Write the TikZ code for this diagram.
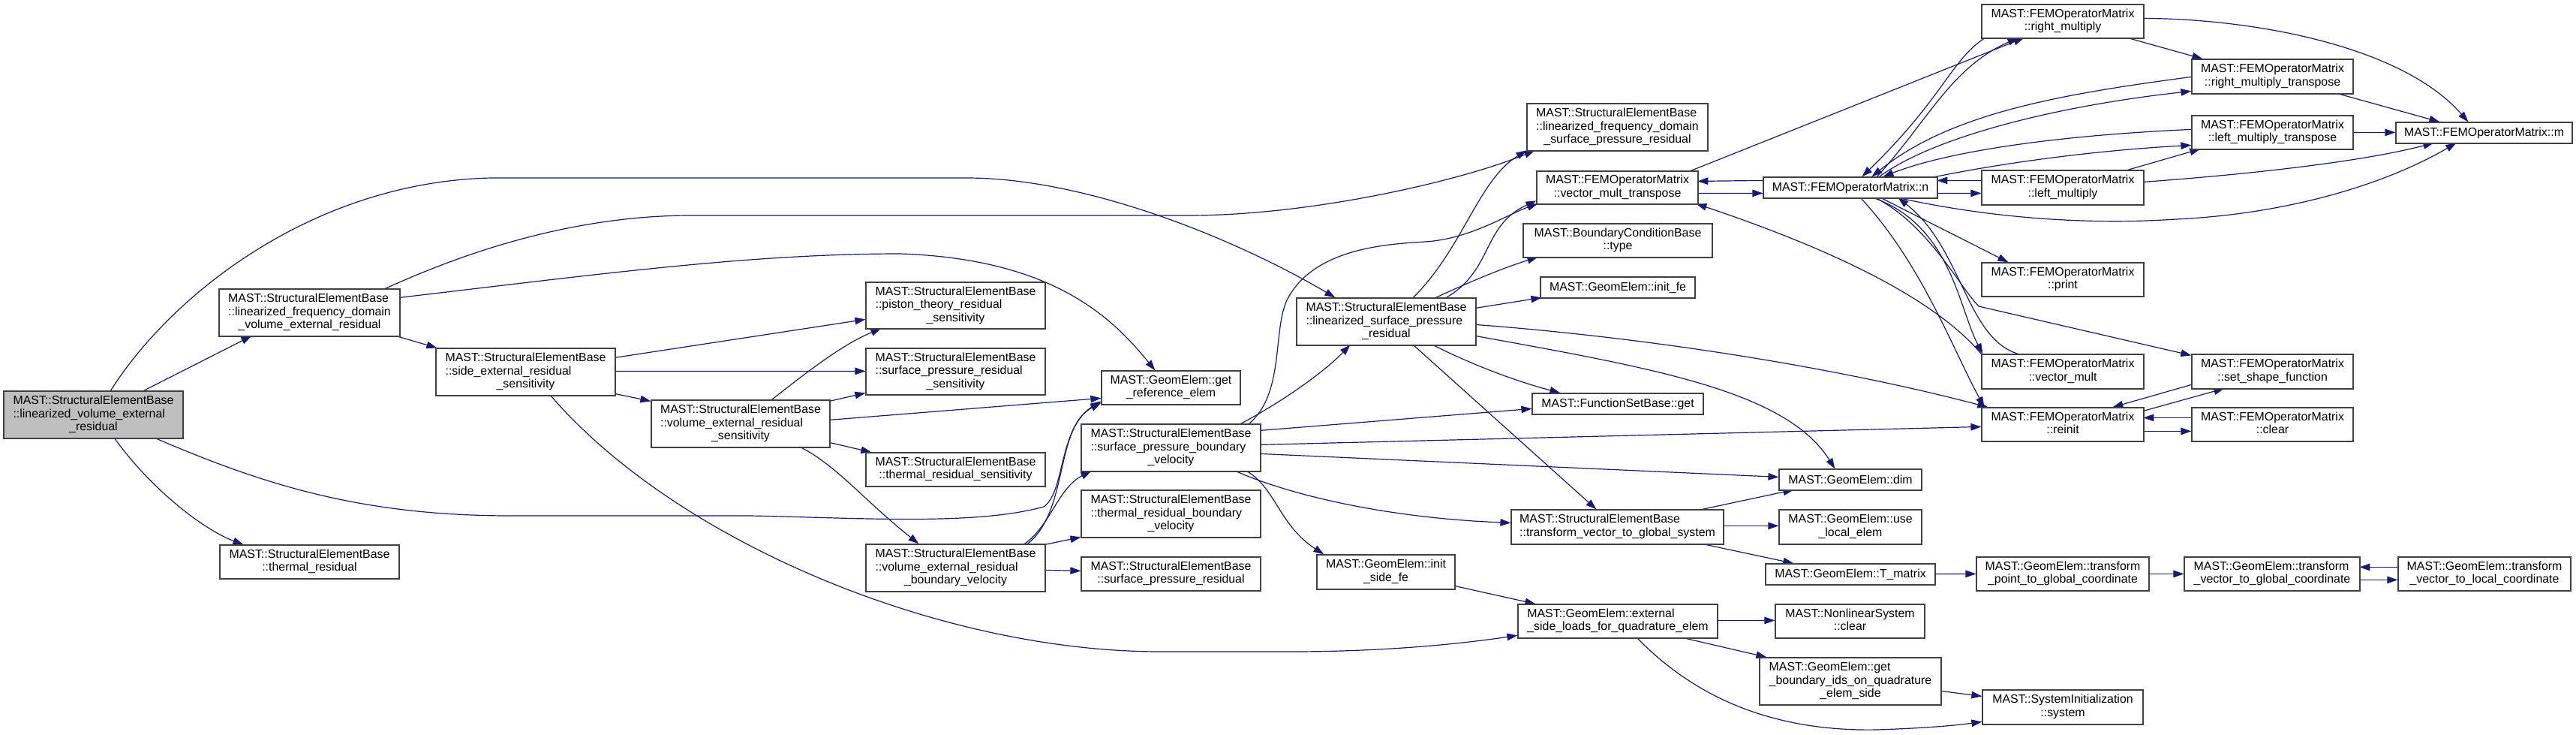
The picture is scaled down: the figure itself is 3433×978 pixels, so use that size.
\documentclass[tikz,border=0pt]{standalone}
\usepackage{fontspec}
\setmainfont{Liberation Sans}
\usetikzlibrary{arrows.meta}
\definecolor{edgec}{HTML}{191970}
\definecolor{boxc}{HTML}{404040}
\definecolor{mainfill}{HTML}{BFBFBF}
\pgfdeclarelayer{bg}
\pgfsetlayers{bg,main}
\newcommand\Lii[2]{\begin{tabular}{@{}l@{}}#1\\\multicolumn{1}{@{}c@{}}{#2}\end{tabular}}
\newcommand\Liii[3]{\begin{tabular}{@{}l@{}}#1\\#2\\\multicolumn{1}{@{}c@{}}{#3}\end{tabular}}
\newcommand\SEB{MAST::StructuralElementBase}
\newcommand\FEM{MAST::FEMOperatorMatrix}
\tikzset{
  nb/.style={draw=boxc, line width=1.2bp, fill=white, inner sep=0pt,
    font=\fontsize{15.9bp}{17.5bp}\selectfont},
  mainnb/.style={nb, fill=mainfill},
  ed/.style={draw=edgec, line width=1.2bp, -{Triangle[length=14bp,width=9.5bp]}}
}
\begin{document}
\begin{tikzpicture}[x=1bp,y=-1bp]
\useasboundingbox (0,0) rectangle (3433,978);
% nodes
\node[mainnb, minimum width=239bp, minimum height=63bp] (A) at (124.5,552.5) {\Liii{\SEB}{::linearized\_volume\_external}{\_residual}};
\node[nb, minimum width=241bp, minimum height=63bp] (B) at (412.5,416.5) {\Liii{\SEB}{::linearized\_frequency\_domain}{\_volume\_external\_residual}};
\node[nb, minimum width=239bp, minimum height=45bp] (C) at (412.5,748.5) {\Lii{\SEB}{::thermal\_residual}};
\node[nb, minimum width=239bp, minimum height=63bp] (D) at (700.5,495.5) {\Liii{\SEB}{::side\_external\_residual}{\_sensitivity}};
\node[nb, minimum width=238bp, minimum height=63bp] (E) at (987,564.5) {\Liii{\SEB}{::volume\_external\_residual}{\_sensitivity}};
\node[nb, minimum width=239bp, minimum height=62bp] (F) at (1273.5,407) {\Liii{\SEB}{::piston\_theory\_residual}{\_sensitivity}};
\node[nb, minimum width=239bp, minimum height=62bp] (G) at (1273.5,495) {\Liii{\SEB}{::surface\_pressure\_residual}{\_sensitivity}};
\node[nb, minimum width=239bp, minimum height=45bp] (H) at (1273.5,625.5) {\Lii{\SEB}{::thermal\_residual\_sensitivity}};
\node[nb, minimum width=239bp, minimum height=63bp] (I) at (1273.5,756.5) {\Liii{\SEB}{::volume\_external\_residual}{\_boundary\_velocity}};
\node[nb, minimum width=185bp, minimum height=45bp] (J) at (1560.5,516.5) {\Lii{MAST::GeomElem::get}{\_reference\_elem}};
\node[nb, minimum width=239bp, minimum height=63bp] (K) at (1560.5,596.5) {\Liii{\SEB}{::surface\_pressure\_boundary}{\_velocity}};
\node[nb, minimum width=239bp, minimum height=63bp] (L) at (1560.5,684.5) {\Liii{\SEB}{::thermal\_residual\_boundary}{\_velocity}};
\node[nb, minimum width=239bp, minimum height=45bp] (M) at (1560.5,764.5) {\Lii{\SEB}{::surface\_pressure\_residual}};
\node[nb, minimum width=241bp, minimum height=63bp] (N) at (2155.5,169.5) {\Liii{\SEB}{::linearized\_frequency\_domain}{\_surface\_pressure\_residual}};
\node[nb, minimum width=215bp, minimum height=44bp] (O) at (2155.5,250) {\Lii{\FEM}{::vector\_mult\_transpose}};
\node[nb, minimum width=252bp, minimum height=45bp] (P) at (2156,320.5) {\Lii{MAST::BoundaryConditionBase}{::type}};
\node[nb, minimum width=206bp, minimum height=28bp] (Q) at (2156,383) {MAST::GeomElem::init\_fe};
\node[nb, minimum width=239bp, minimum height=63bp] (R) at (1847.5,428.5) {\Liii{\SEB}{::linearized\_surface\_pressure}{\_residual}};
\node[nb, minimum width=228bp, minimum height=28bp] (S) at (2156,538) {MAST::FunctionSetBase::get};
\node[nb, minimum width=283bp, minimum height=46bp] (T) at (2155.5,702) {\Lii{\SEB}{::transform\_vector\_to\_global\_system}};
\node[nb, minimum width=184bp, minimum height=46bp] (U) at (1847,762) {\Lii{MAST::GeomElem::init}{\_side\_fe}};
\node[nb, minimum width=266bp, minimum height=45bp] (V) at (2156,827.5) {\Lii{MAST::GeomElem::external}{\_side\_loads\_for\_quadrature\_elem}};
\node[nb, minimum width=232bp, minimum height=28bp] (W) at (2466,250) {\FEM::n};
\node[nb, minimum width=216bp, minimum height=45bp] (X) at (2749,28.5) {\Lii{\FEM}{::right\_multiply}};
\node[nb, minimum width=216bp, minimum height=46bp] (Y) at (2749,250) {\Lii{\FEM}{::left\_multiply}};
\node[nb, minimum width=216bp, minimum height=45bp] (Z) at (2749,372.5) {\Lii{\FEM}{::print}};
\node[nb, minimum width=216bp, minimum height=46bp] (AA) at (2749,495) {\Lii{\FEM}{::vector\_mult}};
\node[nb, minimum width=216bp, minimum height=45bp] (AB) at (2749,565.5) {\Lii{\FEM}{::reinit}};
\node[nb, minimum width=190bp, minimum height=28bp] (AC) at (2466,639) {MAST::GeomElem::dim};
\node[nb, minimum width=190bp, minimum height=46bp] (AD) at (2466,702) {\Lii{MAST::GeomElem::use}{\_local\_elem}};
\node[nb, minimum width=226bp, minimum height=28bp] (AE) at (2466,765) {MAST::GeomElem::T\_matrix};
\node[nb, minimum width=199bp, minimum height=45bp] (AF) at (2465.5,827.5) {\Lii{MAST::NonlinearSystem}{::clear}};
\node[nb, minimum width=242bp, minimum height=63bp] (AG) at (2466,907.5) {\Liii{MAST::GeomElem::get}{\_boundary\_ids\_on\_quadrature}{\_elem\_side}};
\node[nb, minimum width=214bp, minimum height=46bp] (AH) at (2749,942) {\Lii{MAST::SystemInitialization}{::system}};
\node[nb, minimum width=230bp, minimum height=45bp] (AI) at (2749,764.5) {\Lii{MAST::GeomElem::transform}{\_point\_to\_global\_coordinate}};
\node[nb, minimum width=215bp, minimum height=46bp] (AJ) at (3028.5,102) {\Lii{\FEM}{::right\_multiply\_transpose}};
\node[nb, minimum width=215bp, minimum height=45bp] (AK) at (3028.5,176.5) {\Lii{\FEM}{::left\_multiply\_transpose}};
\node[nb, minimum width=235bp, minimum height=28bp] (AL) at (3310.5,177) {\FEM::m};
\node[nb, minimum width=215bp, minimum height=46bp] (AM) at (3028.5,495) {\Lii{\FEM}{::set\_shape\_function}};
\node[nb, minimum width=215bp, minimum height=45bp] (AN) at (3028.5,565.5) {\Lii{\FEM}{::clear}};
\node[nb, minimum width=234bp, minimum height=45bp] (AO) at (3028,764.5) {\Lii{MAST::GeomElem::transform}{\_vector\_to\_global\_coordinate}};
\node[nb, minimum width=230bp, minimum height=45bp] (AP) at (3311,764.5) {\Lii{MAST::GeomElem::transform}{\_vector\_to\_local\_coordinate}};
% edges
\begin{pgfonlayer}{bg}
\draw[ed] ([shift={(143,0)}]A.north west) .. controls (230,390) and (420,242) .. (655,237) -- (1288,237) .. controls (1450,237) and (1650,320) .. ([shift={(52,0)}]R.north west);
\draw[ed] ([shift={(187,0)}]A.north west) -- ([shift={(44,63)}]B.north west);
\draw[ed] ([shift={(148,63)}]A.north west) .. controls (200,650) and (270,705) .. ([shift={(32,0)}]C.north west);
\draw[ed] ([shift={(202,63)}]A.north west) .. controls (350,645) and (480,687) .. (681,687) -- (1000,687) .. controls (1150,690) and (1300,700) .. (1391,675) .. controls (1420,655) and (1410,570) .. ([shift={(0,41)}]J.north west);
\draw[ed] ([shift={(222,0)}]B.north west) .. controls (600,345) and (750,287) .. (921,287) -- (1584,287) .. controls (1750,287) and (1950,240) .. ([shift={(11,63)}]N.north west);
\draw[ed] ([shift={(241,12)}]B.north west) .. controls (800,365) and (1000,338) .. (1200,338) .. controls (1400,345) and (1480,420) .. ([shift={(72,0)}]J.north west);
\draw[ed] ([shift={(236,63)}]B.north west) -- ([shift={(2,0)}]D.north west);
\draw[ed] ([shift={(239,13)}]D.north west) -- ([shift={(0,50)}]F.north west);
\draw[ed] ([shift={(239,31)}]D.north west) -- ([shift={(0,31)}]G.north west);
\draw[ed] ([shift={(239,61)}]D.north west) -- ([shift={(0,2)}]E.north west);
\draw[ed] ([shift={(153,63)}]D.north west) .. controls (900,720) and (1250,868) .. (1547,868) -- (1720,868) .. controls (1850,868) and (1950,857) .. ([shift={(0,42)}]V.north west);
\draw[ed] ([shift={(161,0)}]E.north west) .. controls (1070,500) and (1120,460) .. ([shift={(21,62)}]F.north west);
\draw[ed] ([shift={(238,2)}]E.north west) -- ([shift={(0,60)}]G.north west);
\draw[ed] ([shift={(238,27)}]E.north west) -- ([shift={(0,37)}]J.north west);
\draw[ed] ([shift={(238,57)}]E.north west) -- ([shift={(8,0)}]H.north west);
\draw[ed] ([shift={(199,63)}]E.north west) .. controls (1115,620) and (1150,665) .. ([shift={(71,0)}]I.north west);
\draw[ed] ([shift={(212,0)}]I.north west) .. controls (1400,700) and (1410,650) .. ([shift={(14,63)}]K.north west);
\draw[ed] ([shift={(216,0)}]I.north west) .. controls (1425,680) and (1405,570) .. ([shift={(0,43)}]J.north west);
\draw[ed] ([shift={(239,1)}]I.north west) -- ([shift={(0,63)}]L.north west);
\draw[ed] ([shift={(239,35)}]I.north west) -- ([shift={(0,19)}]M.north west);
\draw[ed] ([shift={(224,0)}]K.north west) .. controls (1712,525) and (1696,440) .. (1715,400) .. controls (1750,330) and (1850,325) .. (1900,322) .. controls (1960,318) and (2010,285) .. ([shift={(2,44)}]O.north west);
\draw[ed] ([shift={(213,0)}]K.north west) .. controls (1700,540) and (1760,500) .. ([shift={(72,63)}]R.north west);
\draw[ed] ([shift={(239,9)}]K.north west) -- ([shift={(0,21)}]S.north west);
\draw[ed] ([shift={(239,28)}]K.north west) -- ([shift={(0,26)}]AB.north west);
\draw[ed] ([shift={(239,40)}]K.north west) -- ([shift={(0,11)}]AC.north west);
\draw[ed] ([shift={(206,63)}]K.north west) .. controls (1720,660) and (1850,690) .. ([shift={(0,18)}]T.north west);
\draw[ed] ([shift={(221,63)}]K.north west) .. controls (1700,650) and (1705,700) .. ([shift={(10,0)}]U.north west);
\draw[ed] ([shift={(156,0)}]R.north west) .. controls (1950,330) and (1970,240) .. ([shift={(0,63)}]N.north west);
\draw[ed] ([shift={(200,0)}]R.north west) .. controls (1990,360) and (1975,300) .. ([shift={(0,40)}]O.north west);
\draw[ed] ([shift={(186,0)}]R.north west) .. controls (1960,375) and (2000,358) .. ([shift={(20,45)}]P.north west);
\draw[ed] ([shift={(239,14)}]R.north west) -- ([shift={(2,28)}]Q.north west);
\draw[ed] ([shift={(239,36)}]R.north west) .. controls (2200,450) and (2450,490) .. ([shift={(9,0)}]AB.north west);
\draw[ed] ([shift={(239,51)}]R.north west) .. controls (2200,490) and (2380,520) .. ([shift={(75,0)}]AC.north west);
\draw[ed] ([shift={(182,63)}]R.north west) .. controls (1950,480) and (2010,505) .. ([shift={(38,0)}]S.north west);
\draw[ed] ([shift={(156,63)}]R.north west) -- ([shift={(114,0)}]T.north west);
\draw[ed] ([shift={(206,0)}]O.north west) -- ([shift={(57,45)}]X.north west);
\draw[ed] ([shift={(0,5)}]W.north west) -- ([shift={(215,14)}]O.north west);
\draw[ed] ([shift={(215,30)}]O.north west) -- ([shift={(0,22)}]W.north west);
\draw[ed] ([shift={(0,0)}]AA.north west) .. controls (2580,400) and (2450,335) .. ([shift={(213,44)}]O.north west);
\draw[ed] ([shift={(152,0)}]W.north west) .. controls (2570,160) and (2600,90) .. ([shift={(49,45)}]X.north west);
\draw[ed] ([shift={(5,45)}]X.north west) .. controls (2600,80) and (2590,130) .. ([shift={(132,0)}]W.north west);
\draw[ed] ([shift={(0,24)}]AJ.north west) .. controls (2750,125) and (2600,150) .. ([shift={(145,0)}]W.north west);
\draw[ed] ([shift={(155,0)}]W.north west) .. controls (2580,180) and (2750,140) .. ([shift={(0,43)}]AJ.north west);
\draw[ed] ([shift={(0,19)}]AK.north west) .. controls (2750,180) and (2600,200) .. ([shift={(160,0)}]W.north west);
\draw[ed] ([shift={(230,0)}]W.north west) .. controls (2680,215) and (2800,200) .. ([shift={(0,40)}]AK.north west);
\draw[ed] ([shift={(0,14)}]Y.north west) -- ([shift={(232,5)}]W.north west);
\draw[ed] ([shift={(232,22)}]W.north west) -- ([shift={(0,31)}]Y.north west);
\draw[ed] ([shift={(195,0)}]Y.north west) -- ([shift={(12,45)}]AK.north west);
\draw[ed] ([shift={(195,45)}]X.north west) -- ([shift={(15,0)}]AJ.north west);
\draw[ed] ([shift={(216,19)}]X.north west) .. controls (3000,25) and (3200,60) .. ([shift={(97,0)}]AL.north west);
\draw[ed] ([shift={(194,46)}]AJ.north west) -- ([shift={(59,0)}]AL.north west);
\draw[ed] ([shift={(215,23)}]AK.north west) -- ([shift={(0,14)}]AL.north west);
\draw[ed] ([shift={(216,16)}]Y.north west) .. controls (3000,232) and (3150,215) .. ([shift={(51,28)}]AL.north west);
\draw[ed] ([shift={(180,28)}]W.north west) .. controls (2650,290) and (2780,300) .. (2900,292) .. controls (3050,285) and (3180,245) .. ([shift={(81,28)}]AL.north west);
\draw[ed] ([shift={(157,28)}]W.north west) -- ([shift={(36,0)}]Z.north west);
\draw[ed] ([shift={(147,28)}]W.north west) .. controls (2600,300) and (2610,410) .. ([shift={(2,0)}]AA.north west);
\draw[ed] ([shift={(49,0)}]AA.north west) .. controls (2620,450) and (2615,330) .. ([shift={(180,28)}]W.north west);
\draw[ed] ([shift={(130,28)}]W.north west) .. controls (2560,350) and (2600,460) .. ([shift={(4,0)}]AB.north west);
\draw[ed] ([shift={(150,28)}]W.north west) .. controls (2570,300) and (2610,380) .. (2637,408) -- ([shift={(0,2)}]AM.north west);
\draw[ed] ([shift={(0,41)}]AM.north west) -- ([shift={(175,0)}]AB.north west);
\draw[ed] ([shift={(216,5)}]AB.north west) -- ([shift={(44,46)}]AM.north west);
\draw[ed] ([shift={(0,14)}]AN.north west) -- ([shift={(216,14)}]AB.north west);
\draw[ed] ([shift={(216,32)}]AB.north west) -- ([shift={(0,32)}]AN.north west);
\draw[ed] ([shift={(255,0)}]T.north west) -- ([shift={(20,28)}]AC.north west);
\draw[ed] ([shift={(283,22)}]T.north west) -- ([shift={(0,22)}]AD.north west);
\draw[ed] ([shift={(255,46)}]T.north west) -- ([shift={(38,0)}]AE.north west);
\draw[ed] ([shift={(226,14)}]AE.north west) -- ([shift={(0,23)}]AI.north west);
\draw[ed] ([shift={(230,23)}]AI.north west) -- ([shift={(0,23)}]AO.north west);
\draw[ed] ([shift={(0,14)}]AP.north west) -- ([shift={(234,14)}]AO.north west);
\draw[ed] ([shift={(234,31)}]AO.north west) -- ([shift={(0,31)}]AP.north west);
\draw[ed] ([shift={(266,22)}]V.north west) -- ([shift={(0,22)}]AF.north west);
\draw[ed] ([shift={(220,45)}]V.north west) -- ([shift={(10,0)}]AG.north west);
\draw[ed] ([shift={(159,45)}]V.north west) .. controls (2250,920) and (2350,975) .. (2502,972) .. controls (2560,970) and (2600,967) .. ([shift={(0,43)}]AH.north west);
\draw[ed] ([shift={(242,45)}]AG.north west) -- ([shift={(0,9)}]AH.north west);
\draw[ed] ([shift={(184,42)}]U.north west) -- ([shift={(24,0)}]V.north west);
\end{pgfonlayer}
\end{tikzpicture}
\end{document}
